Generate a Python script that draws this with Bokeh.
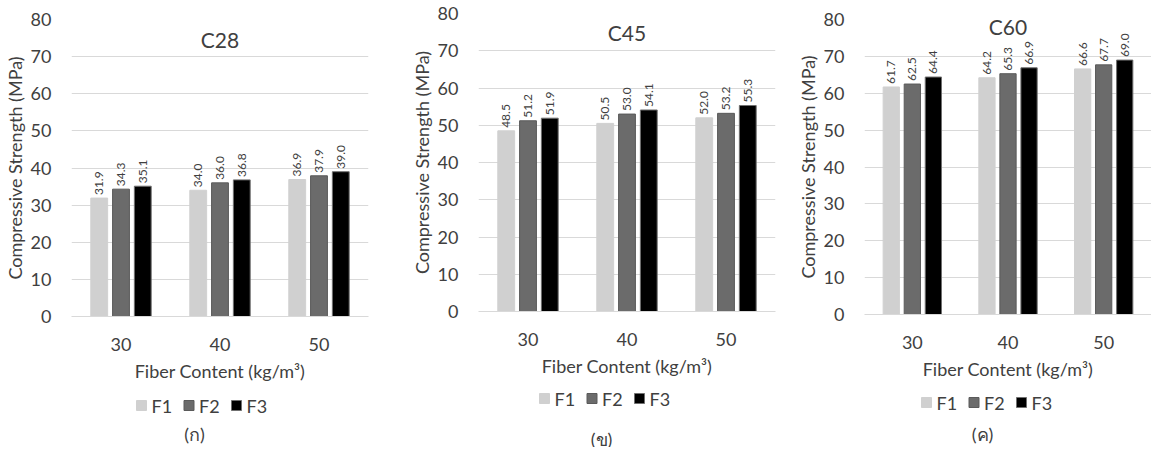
import math
from bokeh.plotting import figure
from bokeh.models import FactorRange, ColumnDataSource, Range1d, FixedTicker
from bokeh.transform import dodge
from bokeh.layouts import row, column
from bokeh.embed import file_html
from bokeh.resources import INLINE
from bokeh.core.properties import value

# ---------------- data ----------------
fiber = ["30", "40", "50"]
series = ["F1", "F2", "F3"]
colors = ["#d0d0d0", "#6b6b6b", "#000000"]
edge_colors = ["#d0d0d0", "#5a5a5a", "#707070"]
y_ticks = [0, 10, 20, 30, 40, 50, 60, 70, 80]

titles = ["C28", "C45", "C60"]
captions = ["(ก)", "(ข)", "(ค)"]

c28_f1 = [31.9, 34.0, 36.9]
c28_f2 = [34.3, 36.0, 37.9]
c28_f3 = [35.1, 36.8, 39.0]

c45_f1 = [48.5, 50.5, 52.0]
c45_f2 = [51.2, 53.0, 53.2]
c45_f3 = [51.9, 54.1, 55.3]

c60_f1 = [61.7, 64.2, 66.6]
c60_f2 = [62.5, 65.3, 67.7]
c60_f3 = [64.4, 66.9, 69.0]

FONT = "Lato"
TXT = "#404040"
CHART_H = 387
FOOT_H = 60
TOTAL_W = 1139


def chart(title, vals, fw, fh, bl, br, bt, title_y):
    p = figure(x_range=FactorRange(*fiber), y_range=Range1d(0, 80),
               frame_width=fw, frame_height=fh, output_backend="svg",
               toolbar_location=None, min_border_left=bl, min_border_right=br,
               min_border_top=bt, min_border_bottom=CHART_H - bt - fh)
    p.outline_line_color = None

    data = {"x": fiber}
    for s, v in zip(series, vals):
        data[s] = v
        data[s + "_t"] = ["%.1f" % t for t in v]
    src = ColumnDataSource(data)

    offsets = [-0.22, 0.0, 0.22]
    for s, off, c, ec in zip(series, offsets, colors, edge_colors):
        p.vbar(x=dodge("x", off, range=p.x_range), top=s, width=0.17, source=src,
               fill_color=c, line_color=ec, line_width=1)
        p.text(x=dodge("x", off, range=p.x_range), y=s, text=s + "_t", source=src,
               angle=math.pi / 2, text_align="left", text_baseline="middle",
               y_offset=-3, text_font=value(FONT), text_font_size=value("12px"),
               text_color=TXT)

    p.text(x=[fiber[1]], y=[title_y], text=[title], text_align="center",
           text_baseline="middle", text_font=value(FONT),
           text_font_size=value("21px"), text_color=TXT)

    p.xgrid.grid_line_color = None
    p.ygrid.grid_line_color = "#d9d9d9"

    ya = p.yaxis[0]
    ya.ticker = FixedTicker(ticks=y_ticks)
    ya.axis_line_color = None
    ya.major_tick_line_color = None
    ya.minor_tick_line_color = None
    ya.major_label_text_font = FONT
    ya.major_label_text_font_size = "18px"
    ya.major_label_text_color = TXT
    ya.major_label_standoff = 14
    ya.axis_label = "Compressive Strength (MPa)"
    ya.axis_label_text_font = FONT
    ya.axis_label_text_font_size = "18px"
    ya.axis_label_text_font_style = "normal"
    ya.axis_label_text_color = TXT
    ya.axis_label_standoff = 2

    xa = p.xaxis[0]
    xa.axis_line_color = "#d9d9d9"
    xa.major_tick_line_color = None
    xa.minor_tick_line_color = None
    xa.major_label_text_font = FONT
    xa.major_label_text_font_size = "18px"
    xa.major_label_text_color = TXT
    xa.major_label_standoff = 15
    xa.axis_label = "Fiber Content (kg/m³)"
    xa.axis_label_text_font = FONT
    xa.axis_label_text_font_size = "18px"
    xa.axis_label_text_font_style = "normal"
    xa.axis_label_text_color = TXT
    xa.axis_label_standoff = 6
    return p


c1 = chart(titles[0], [c28_f1, c28_f2, c28_f3], 297, 297, 64, 39, 19, 74.5)
c2 = chart(titles[1], [c45_f1, c45_f2, c45_f3], 297, 298, 68, 18, 13, 75.0)
c3 = chart(titles[2], [c60_f1, c60_f2, c60_f3], 287, 295, 69, 0, 19, 78.2)

# ---------------- footer: legends and captions (pixel coordinates) ----------------
leg_left = [136, 539, 921]     # left edge of first swatch in each panel
leg_row = [18, 11, 15]         # vertical centre of legend row
cap_x = [194, 601, 982]
cap_y = [46, 51, 46]
pitch = 47.5

foot = figure(x_range=Range1d(0, TOTAL_W), y_range=Range1d(FOOT_H, 0),
              width=TOTAL_W, height=FOOT_H, output_backend="svg",
              toolbar_location=None, min_border=0, x_axis_type=None, y_axis_type=None)
foot.outline_line_color = None
foot.grid.visible = False

sw_x, sw_y, sw_c, sw_e, lb_x, lb_y, lb_t = [], [], [], [], [], [], []
for left, yc in zip(leg_left, leg_row):
    for i, s in enumerate(series):
        sw_x.append(left + 5 + i * pitch)
        sw_y.append(yc)
        sw_c.append(colors[i])
        sw_e.append(edge_colors[i])
        lb_x.append(left + 15 + i * pitch)
        lb_y.append(yc)
        lb_t.append(s)

foot.rect(x=sw_x, y=sw_y, width=10, height=10, fill_color=sw_c, line_color=sw_e)
foot.text(x=lb_x, y=lb_y, text=lb_t, text_align="left", text_baseline="middle",
          text_font=value(FONT), text_font_size=value("18px"), text_color=TXT)
foot.text(x=cap_x, y=cap_y, text=captions, text_align="center",
          text_baseline="middle", text_font=value(FONT),
          text_font_size=value("18px"), text_color=TXT)

layout = column(row(column(c1), column(c2), column(c3), spacing=0), foot, spacing=0)
open("out.html", "w").write(file_html(layout, INLINE))
